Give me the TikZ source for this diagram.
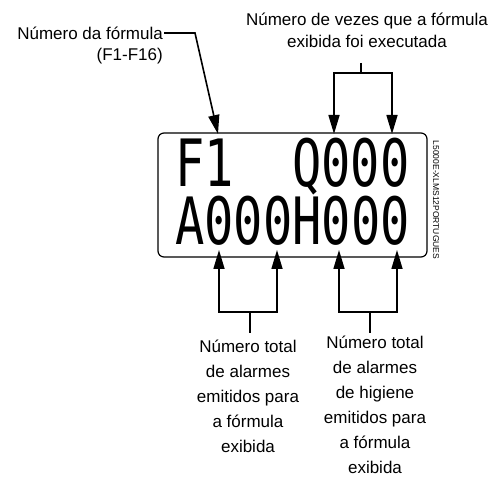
\documentclass[tikz,border=0pt]{standalone}
\usepackage{fontspec}
\setmainfont{Liberation Sans}
\newfontfamily\lcdfont{DejaVu Sans Mono}
\usetikzlibrary{arrows.meta, calc}

\begin{document}
\begin{tikzpicture}[x=1pt, y=-1pt,
            note/.style={inner sep=0pt, align=center, font=\fontsize{17}{25}\selectfont},
            lcd/.style={inner sep=0pt, anchor=base west, font=\lcdfont\fontsize{48.7}{50}\selectfont},
            wire/.style={line width=1.6pt},
            pointer/.style={line width=1.6pt, -{Triangle[length=19pt, width=11pt]}}
        ]
            \useasboundingbox (0,0) rectangle (496,478);

% Display panel
            \node[draw, line width=1.2pt, rounded corners=6pt, minimum width=269pt, minimum height=124pt, inner sep=0pt] (panel) at (292.5,195) {};
            \node[lcd] (fnum) at (175,187) {\scalebox{1}[1.34]{F1}};
            \node[lcd] (qcount) at (292,187) {\scalebox{1}[1.34]{Q000}};
            \node[lcd] (alarms) at (175,245) {\scalebox{1}[1.34]{A000H000}};
            \node[inner sep=0pt, rotate=-90, font=\fontsize{8.5}{9}\selectfont] (code) at (436,200) {L5000E-XLMS12PORTUGUES};

% Labels
            \node[note, align=right, font=\fontsize{17}{21}\selectfont, anchor=north east] (formula) at (163,26.5) {Número da fórmula\\(F1-F16)};
            \node[note, font=\fontsize{17}{22}\selectfont, anchor=north] (runs) at (367,12.6) {Número de vezes que a fórmula\\exibida foi executada};
            \node[note, anchor=north] (totA) at (248,339.6) {Número total\\de alarmes\\emitidos para\\a fórmula\\exibida};
            \node[note, anchor=north] (totH) at (375,335.6) {Número total\\de alarmes\\de higiene\\emitidos para\\a fórmula\\exibida};

% Formula number pointer
            \coordinate (fbend) at (195,33);
            \coordinate (ftip) at (218,134);
            \draw[pointer] ($(formula.north east)+(1,6.5)$) -- (fbend) -- (ftip);

% Run count bracket
            \coordinate (rstem) at (361,63);
            \coordinate (rjoin) at (361,73);
            \coordinate (q1) at (334,134);
            \coordinate (q2) at (392,134);
            \draw[wire] (rstem) -- (rjoin);
            \draw[pointer] (rjoin) -| (q1);
            \draw[pointer] (rjoin) -| (q2);

% Alarm brackets
            \coordinate (astem) at (250,333);
            \coordinate (ajoin) at (250,312);
            \coordinate (a1) at (219,250);
            \coordinate (a2) at (277,250);
            \draw[wire] (astem) -- (ajoin);
            \draw[pointer] (ajoin) -| (a1);
            \draw[pointer] (ajoin) -| (a2);

            \coordinate (hstem) at (370,333);
            \coordinate (hjoin) at (370,312);
            \coordinate (h1) at (339,250);
            \coordinate (h2) at (397,250);
            \draw[wire] (hstem) -- (hjoin);
            \draw[pointer] (hjoin) -| (h1);
            \draw[pointer] (hjoin) -| (h2);

        \end{tikzpicture}
\end{document}
